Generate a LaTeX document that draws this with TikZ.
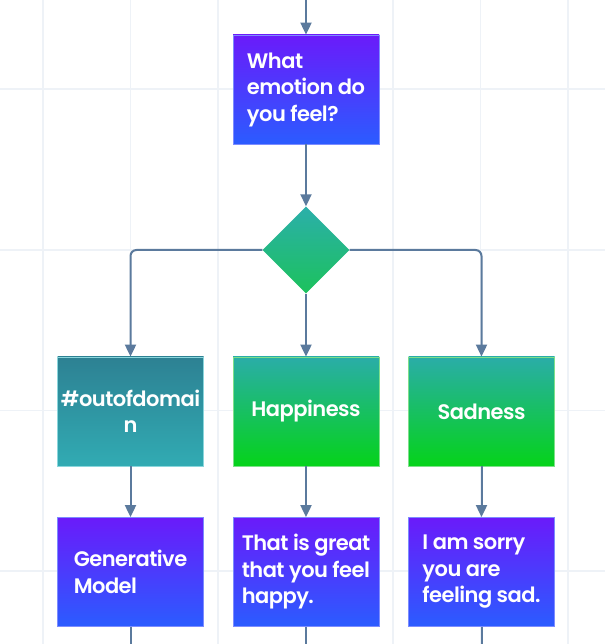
\documentclass[tikz,border=0pt]{standalone}
\usepackage{fontspec}
\setmainfont{Poppins}[UprightFont=* SemiBold, LetterSpace=-2.5]
\usetikzlibrary{arrows.meta,shapes.geometric}
\definecolor{pTop}{HTML}{6A1BFA}
\definecolor{pBot}{HTML}{2B5CFF}
\definecolor{pLine}{HTML}{7C8CFF}
\definecolor{dTop}{HTML}{2BAFAA}
\definecolor{dBot}{HTML}{1CC25C}
\definecolor{oTop}{HTML}{2D8193}
\definecolor{oBot}{HTML}{31ABB3}
\definecolor{oLine}{HTML}{8AD6DC}
\definecolor{gTop}{HTML}{2AADA8}
\definecolor{gBot}{HTML}{05D31A}
\definecolor{gLine}{HTML}{7EE08A}
\definecolor{conn}{HTML}{5B7A9D}
\definecolor{grid}{HTML}{EEF2F7}
\tikzset{
  box/.style={rectangle, minimum width=146pt, minimum height=109pt, inner sep=0pt,
    text=white, font=\fontsize{21}{26.5}\selectfont, align=left, line width=0.8pt},
  centered/.style={align=center},
  purplebox/.style={box, top color=pTop, bottom color=pBot, draw=pLine},
  tealbox/.style={box, top color=oTop, bottom color=oBot, draw=oLine},
  greenbox/.style={box, top color=gTop, bottom color=gBot, draw=gLine},
  decision/.style={diamond, shape aspect=1, minimum width=87pt, minimum height=87pt, inner sep=0pt,
    top color=dTop, bottom color=dBot},
  conn/.style={draw=conn, line width=2pt},
  arr/.style={conn, -{Triangle[length=12pt,width=11pt]}},
  gridline/.style={draw=grid, line width=1.2pt}
}
\begin{document}
\begin{tikzpicture}[x=1pt,y=1pt]
\useasboundingbox (0,0) rectangle (605,644);
\fill[white] (0,0) rectangle (605,644);
% grid
\foreach \gx in {43,130.5,218,305.5,393,480.5,568} \draw[gridline] (\gx,0) -- (\gx,644);
\foreach \gy in {555,394,233.5,73} \draw[gridline] (0,\gy) -- (605,\gy);

% nodes
\coordinate (start) at (306,646);
\node[purplebox] (q) at (306,554.5) {What\\emotion do\\you feel?};
\node[decision] (d) at (306,394) {};
\node[tealbox, centered] (ood) at (130.5,232.5) {\#outofdomai\\n};
\node[greenbox, centered] (hap) at (306,232.5) {Happiness};
\node[greenbox, centered] (sad) at (481.5,232.5) {Sadness};
\node[purplebox] (gen) at (130.5,72) {Generative\\Model};
\node[purplebox] (great) at (306,72) {That is great\\that you feel\\happy.};
\node[purplebox] (sorry) at (481.5,72) {I am sorry\\you are\\feeling sad.};
\coordinate (e1) at (130.5,-2);
\coordinate (e2) at (306,-2);
\coordinate (e3) at (481.5,-2);

% connectors
\draw[arr] (start) -- (q.north);
\draw[arr] (q.south) -- (d.north);
\draw[arr, rounded corners=6pt] (d.west) -| (ood.north);
\draw[arr] (d.south) -- (hap.north);
\draw[arr, rounded corners=6pt] (d.east) -| (sad.north);
\draw[arr] (ood.south) -- (gen.north);
\draw[arr] (hap.south) -- (great.north);
\draw[arr] (sad.south) -- (sorry.north);
\draw[conn] (gen.south) -- (e1);
\draw[conn] (great.south) -- (e2);
\draw[conn] (sorry.south) -- (e3);
\end{tikzpicture}
\end{document}
